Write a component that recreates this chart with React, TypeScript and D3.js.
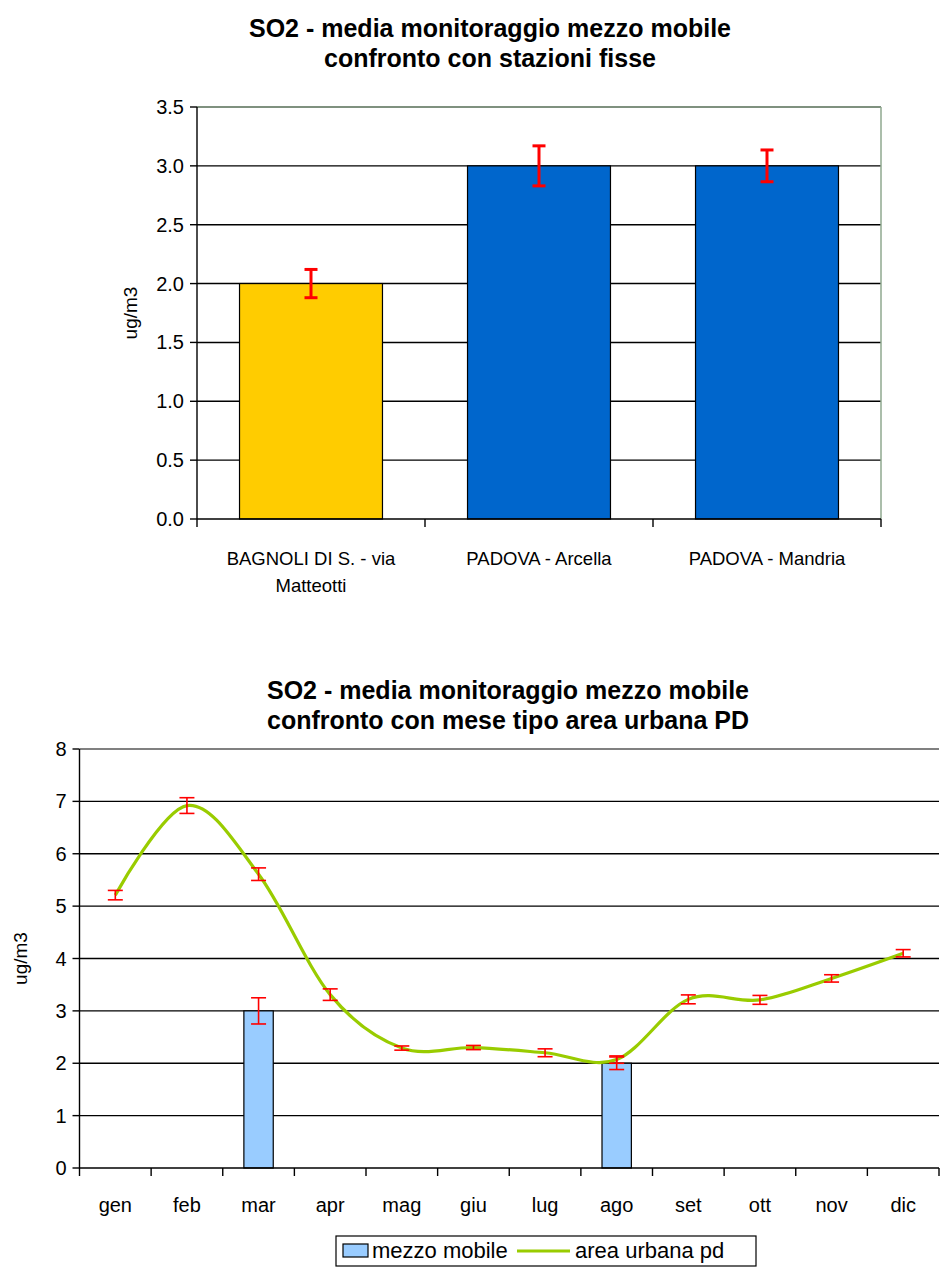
import * as d3 from 'd3';

// top chart: fixed stations
const stationNames = ['BAGNOLI DI S. - via Matteotti', 'PADOVA - Arcella', 'PADOVA - Mandria'];
const stationLabelLines = [['BAGNOLI DI S. - via', 'Matteotti'], ['PADOVA - Arcella'], ['PADOVA - Mandria']];
const stationValues = [2.0, 3.0, 3.0];
const stationErrors = [0.12, 0.17, 0.135];
const stationColors = ['#FFCC00', '#0066CC', '#0066CC'];
const stationTicks = [0, 0.5, 1, 1.5, 2, 2.5, 3, 3.5];

// bottom chart: monthly comparison
const months = ['gen', 'feb', 'mar', 'apr', 'mag', 'giu', 'lug', 'ago', 'set', 'ott', 'nov', 'dic'];
const mobileValues: (number | null)[] = [null, null, 3.0, null, null, null, null, 2.0, null, null, null, null];
const mobileErrors: (number | null)[] = [null, null, 0.25, null, null, null, null, 0.12, null, null, null, null];
const urbanValues = [5.21, 6.92, 5.61, 3.31, 2.29, 2.3, 2.2, 2.07, 3.22, 3.21, 3.62, 4.1];
const urbanErrors = [0.09, 0.15, 0.12, 0.11, 0.04, 0.04, 0.075, 0.07, 0.085, 0.085, 0.07, 0.07];
const monthTicks = [0, 1, 2, 3, 4, 5, 6, 7, 8];

const FONT = '"Liberation Sans", Arial, sans-serif';

function StationChart() {
  const left = 197, right = 881, top = 107, bottom = 519;
  const x = d3.scaleBand<string>().domain(stationNames).range([left, right]).paddingInner(0.373).paddingOuter(0.1865);
  const y = d3.scaleLinear().domain([0, 3.5]).range([bottom, top]);
  const step = x.step();
  const bounds = d3.range(stationNames.length + 1).map((i) => left + i * step);

  return (
    <g fontFamily={FONT}>
      <text x={490} y={37} textAnchor="middle" fontSize={25} fontWeight="bold">SO2 - media monitoraggio mezzo mobile</text>
      <text x={490} y={67} textAnchor="middle" fontSize={25} fontWeight="bold">confronto con stazioni fisse</text>

      {stationTicks.map((t) => (
        <g key={t}>
          {t > 0 && t < 3.5 && <line x1={left} x2={right} y1={y(t)} y2={y(t)} stroke="#000" strokeWidth={1.4} />}
          <line x1={left - 7} x2={left} y1={y(t)} y2={y(t)} stroke="#000" strokeWidth={1.4} />
          <text x={left - 13} y={y(t)} dy="0.35em" textAnchor="end" fontSize={20}>{d3.format('.1f')(t)}</text>
        </g>
      ))}
      <line x1={left} x2={right} y1={top} y2={top} stroke="#7f917f" strokeWidth={2} />
      <line x1={right} x2={right} y1={top} y2={bottom} stroke="#8fa88f" strokeWidth={1.5} />

      {stationNames.map((s, i) => (
        <rect key={s} x={x(s)} y={y(stationValues[i])} width={x.bandwidth()} height={y(0) - y(stationValues[i])}
          fill={stationColors[i]} stroke="#000" strokeWidth={1.2} />
      ))}
      {stationNames.map((s, i) => {
        const cx = (x(s) ?? 0) + x.bandwidth() / 2;
        const hi = y(stationValues[i] + stationErrors[i]);
        const lo = y(stationValues[i] - stationErrors[i]);
        return (
          <g key={s} stroke="#FF0000" strokeWidth={3}>
            <line x1={cx} x2={cx} y1={hi} y2={lo} />
            <line x1={cx - 6.5} x2={cx + 6.5} y1={hi} y2={hi} />
            <line x1={cx - 6.5} x2={cx + 6.5} y1={lo} y2={lo} />
          </g>
        );
      })}

      <line x1={left} x2={left} y1={top} y2={bottom} stroke="#000" strokeWidth={1.4} />
      <line x1={left} x2={right} y1={bottom} y2={bottom} stroke="#000" strokeWidth={1.6} />
      {bounds.map((b) => (
        <line key={b} x1={b} x2={b} y1={bottom} y2={bottom + 8} stroke="#000" strokeWidth={1.4} />
      ))}
      {stationNames.map((s, i) => {
        const cx = (x(s) ?? 0) + x.bandwidth() / 2;
        return stationLabelLines[i].map((ln, k) => (
          <text key={s + k} x={cx} y={565 + k * 27} textAnchor="middle" fontSize={18.5}>{ln}</text>
        ));
      })}
      <text transform={`translate(137,${(top + bottom) / 2}) rotate(-90)`} textAnchor="middle" fontSize={19}>ug/m3</text>
    </g>
  );
}

function MonthChart() {
  const left = 79.5, right = 939, top = 749, bottom = 1168;
  const x = d3.scaleBand<string>().domain(months).range([left, right]).paddingInner(0.59).paddingOuter(0.295);
  const y = d3.scaleLinear().domain([0, 8]).range([bottom, top]);
  const step = x.step();
  const cx = (m: string) => (x(m) ?? 0) + x.bandwidth() / 2;
  const bounds = d3.range(months.length + 1).map((i) => left + i * step);

  const line = d3
    .line<number>()
    .x((_, i) => cx(months[i]))
    .y((v) => y(v))
    .curve(d3.curveCardinal.tension(0));

  const errBar = (key: string, px: number, v: number, e: number) => {
    const hi = y(v + e);
    const lo = y(v - e);
    return (
      <g key={key} stroke="#FF0000" strokeWidth={1.6}>
        <line x1={px} x2={px} y1={hi} y2={lo} />
        <line x1={px - 7.5} x2={px + 7.5} y1={hi} y2={hi} />
        <line x1={px - 7.5} x2={px + 7.5} y1={lo} y2={lo} />
      </g>
    );
  };

  return (
    <g fontFamily={FONT}>
      <text x={508} y={699} textAnchor="middle" fontSize={25} fontWeight="bold">SO2 - media monitoraggio mezzo mobile</text>
      <text x={508} y={729} textAnchor="middle" fontSize={25} fontWeight="bold">confronto con mese tipo area urbana PD</text>

      {monthTicks.map((t) => (
        <g key={t}>
          {t > 0 && t < 8 && <line x1={left} x2={right} y1={y(t)} y2={y(t)} stroke="#000" strokeWidth={1.4} />}
          <line x1={left - 7} x2={left} y1={y(t)} y2={y(t)} stroke="#000" strokeWidth={1.4} />
          <text x={left - 13} y={y(t)} dy="0.35em" textAnchor="end" fontSize={20}>{t}</text>
        </g>
      ))}
      <line x1={left} x2={right} y1={top} y2={top} stroke="#808080" strokeWidth={2} />

      {months.map((m, i) =>
        mobileValues[i] == null ? null : (
          <rect key={m} x={x(m)} y={y(mobileValues[i] as number)} width={x.bandwidth()}
            height={y(0) - y(mobileValues[i] as number)} fill="#99CCFF" stroke="#000" strokeWidth={1.2} />
        )
      )}

      <path d={line(urbanValues) ?? ''} fill="none" stroke="#99CC00" strokeWidth={3.2} strokeLinejoin="round" />

      {months.map((m, i) =>
        mobileValues[i] == null ? null : errBar('b' + m, cx(m), mobileValues[i] as number, mobileErrors[i] as number)
      )}
      {months.map((m, i) => errBar('l' + m, cx(m), urbanValues[i], urbanErrors[i]))}

      <line x1={left} x2={left} y1={top} y2={bottom} stroke="#000" strokeWidth={1.4} />
      <line x1={left} x2={right} y1={bottom} y2={bottom} stroke="#000" strokeWidth={1.6} />
      {bounds.map((b) => (
        <line key={b} x1={b} x2={b} y1={bottom} y2={bottom + 8} stroke="#000" strokeWidth={1.4} />
      ))}
      {months.map((m) => (
        <text key={m} x={cx(m)} y={1212} textAnchor="middle" fontSize={20}>{m}</text>
      ))}
      <text transform={`translate(27,${(top + bottom) / 2}) rotate(-90)`} textAnchor="middle" fontSize={19}>ug/m3</text>

      {/* legend */}
      <rect x={336} y={1236} width={420} height={30} fill="#fff" stroke="#000" strokeWidth={1.2} />
      <rect x={343} y={1244} width={25} height={13} fill="#99CCFF" stroke="#000" strokeWidth={1.2} />
      <text x={372} y={1258} fontSize={22}>mezzo mobile</text>
      <line x1={517} x2={570} y1={1251} y2={1251} stroke="#99CC00" strokeWidth={3.2} />
      <text x={575} y={1258} fontSize={22}>area urbana pd</text>
    </g>
  );
}

export default function App() {
  return (
    <svg width={940} height={1270} style={{ position: 'absolute', left: 0, top: 0, background: '#fff' }}>
      <rect width={940} height={1270} fill="#fff" />
      <StationChart />
      <MonthChart />
    </svg>
  );
}
